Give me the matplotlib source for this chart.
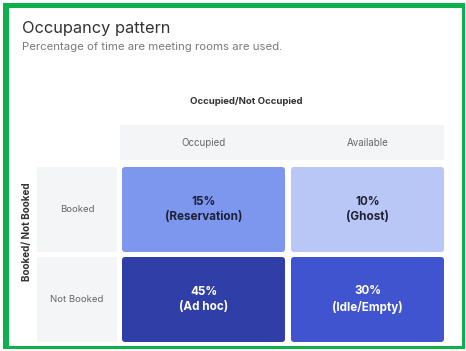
import matplotlib
matplotlib.use("Agg")
import matplotlib.pyplot as plt
from matplotlib.patches import FancyBboxPatch, Rectangle

# ---- data ----
col_labels = ["Occupied", "Available"]
row_labels = ["Booked", "Not Booked"]
values = [[15, 10], [45, 30]]
names = [["Reservation", "Ghost"], ["Ad hoc", "Idle/Empty"]]
title = "Occupancy pattern"
subtitle = "Percentage of time are meeting rooms are used."
x_title = "Occupied/Not Occupied"
y_title = "Booked/ Not Booked"

# ---- style ----
cell_colors = {10: "#b9c7f6", 15: "#7d97ef", 30: "#4054d0", 45: "#303fa8"}
text_colors = {10: "#1e2236", 15: "#1e2236", 30: "#ffffff", 45: "#ffffff"}
FONT = ["Inter", "DejaVu Sans"]
GREEN = "#0db14b"

W, H = 466, 351
fig = plt.figure(figsize=(W / 100, H / 100), dpi=100)
ax = fig.add_axes([0, 0, 1, 1])
ax.set_xlim(0, W)
ax.set_ylim(H, 0)
ax.axis("off")

# green frame (uneven thickness)
for (x, y, w, h) in [(3, 3, 462, 5), (3, 3, 6, 346), (462, 3, 3, 346), (3, 346, 462, 3)]:
    ax.add_patch(Rectangle((x, y), w, h, facecolor=GREEN, edgecolor="none"))

ax.text(22, 29, title, fontsize=11.8, color="#333333", family=FONT, va="center", ha="left")
ax.text(22, 47, subtitle, fontsize=8.2, color="#7a7a7a", family=FONT, va="center", ha="left")
ax.text(246, 101, x_title, fontsize=6.9, color="#333333", family=FONT, weight="bold",
        va="center", ha="center")
ax.text(27, 232, y_title, fontsize=7.1, color="#333333", family=FONT, weight="bold",
        va="center", ha="center", rotation=90)

# layout (pixels)
col_x = [(122, 285), (291, 444)]
row_y = [(167, 252), (257, 342)]
hdr_y = (125, 160)
rh_x = (37, 117)
light = "#f4f5f7"

# column header band
ax.add_patch(Rectangle((col_x[0][0] - 2, hdr_y[0]), col_x[1][1] - col_x[0][0] + 2,
                       hdr_y[1] - hdr_y[0], facecolor=light, edgecolor="none"))
for j, lab in enumerate(col_labels):
    cx = (col_x[j][0] + col_x[j][1]) / 2
    ax.text(cx, (hdr_y[0] + hdr_y[1]) / 2, lab, fontsize=7, color="#666666",
            family=FONT, va="center", ha="center")

for i, lab in enumerate(row_labels):
    y0, y1 = row_y[i]
    ax.add_patch(Rectangle((rh_x[0], y0), rh_x[1] - rh_x[0], y1 - y0,
                           facecolor=light, edgecolor="none"))
    ax.text((rh_x[0] + rh_x[1]) / 2, (y0 + y1) / 2, lab, fontsize=6.9, color="#666666",
            family=FONT, va="center", ha="center")
    for j in range(len(col_labels)):
        x0, x1 = col_x[j]
        v = values[i][j]
        ax.add_patch(FancyBboxPatch((x0, y0), x1 - x0, y1 - y0,
                                    boxstyle="round,pad=0,rounding_size=3",
                                    facecolor=cell_colors[v], edgecolor="none"))
        ax.text((x0 + x1) / 2, (y0 + y1) / 2, f"{v}%\n({names[i][j]})", fontsize=8.4,
                color=text_colors[v], family=FONT, weight="bold", va="center",
                ha="center", linespacing=1.35)

fig.savefig("out.png", dpi=100, facecolor="white")
